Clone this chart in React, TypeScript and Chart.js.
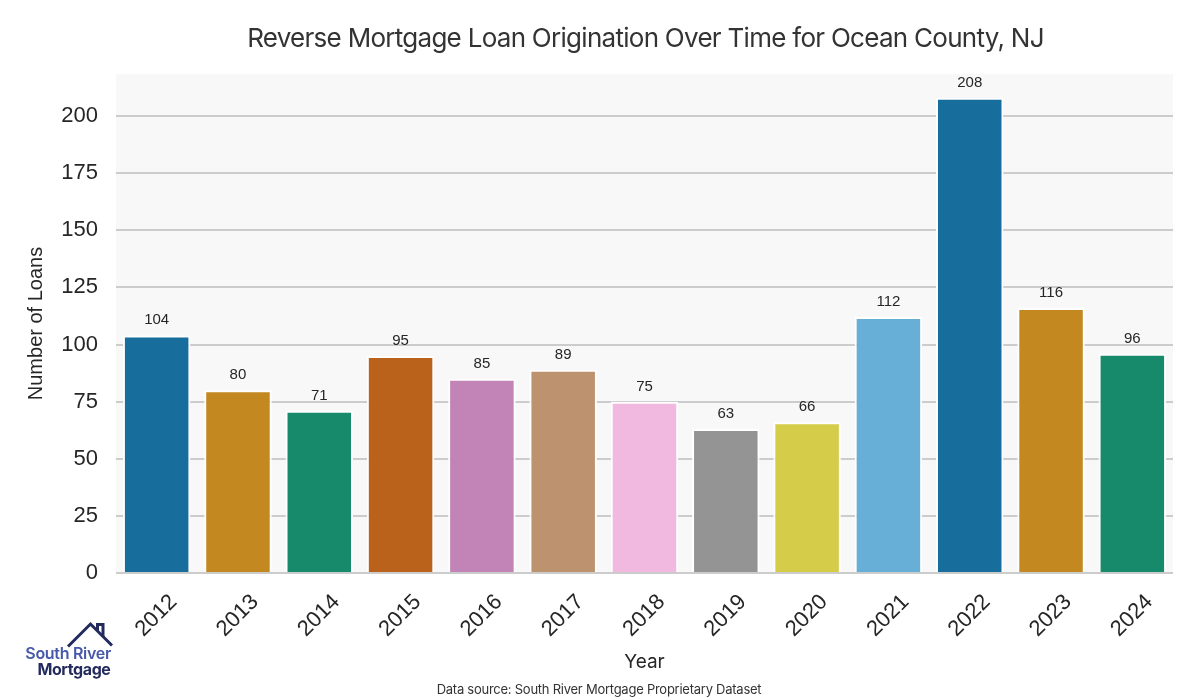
import React, { useEffect, useRef } from "react";
import { Chart, registerables } from "chart.js";

Chart.register(...registerables);

const years = ["2012", "2013", "2014", "2015", "2016", "2017", "2018", "2019", "2020", "2021", "2022", "2023", "2024"];
const loans = [104, 80, 71, 95, 85, 89, 75, 63, 66, 112, 208, 116, 96];
const barColors = [
  "#176d9c", "#c38820", "#168a6a", "#ba611b", "#c283b6", "#bd926e", "#f1b8e0",
  "#949494", "#d5cd4a", "#68afd7", "#176d9c", "#c38820", "#168a6a",
];
const yTickValues = [0, 25, 50, 75, 100, 125, 150, 175, 200];
const yMax = 218.4;
const titleText = "Reverse Mortgage Loan Origination Over Time for Ocean County, NJ";
const xTitle = "Year";
const yTitle = "Number of Loans";
const sourceText = "Data source: South River Mortgage Proprietary Dataset";
const logoLine1 = "South River";
const logoLine2 = "Mortgage";

const TICK_FONT = '"Liberation Sans", Arial, sans-serif';
const UI_FONT = 'Inter, "Noto Sans", sans-serif';

function spacedText(ctx: any, text: string, x: number, y: number, spacing: string) {
  const prev = ctx.letterSpacing;
  ctx.letterSpacing = spacing;
  ctx.textAlign = "left";
  const w = ctx.measureText(text).width;
  ctx.fillText(text, x - w / 2, y);
  ctx.letterSpacing = prev || "0px";
}

function rightText(ctx: any, text: string, xRight: number, y: number, spacing: string) {
  const prev = ctx.letterSpacing;
  ctx.letterSpacing = spacing;
  ctx.textAlign = "left";
  const w = ctx.measureText(text).width;
  ctx.fillText(text, xRight - w, y);
  ctx.letterSpacing = prev || "0px";
}

const decorPlugin = {
  id: "decor",
  beforeDraw(chart: any) {
    const { ctx, chartArea } = chart;
    ctx.save();
    ctx.fillStyle = "#ffffff";
    ctx.fillRect(0, 0, chart.width, chart.height);
    ctx.fillStyle = "#f8f8f8";
    ctx.fillRect(chartArea.left, chartArea.top, chartArea.right - chartArea.left, chartArea.bottom - chartArea.top);
    ctx.restore();
  },
  afterDraw(chart: any) {
    const { ctx, chartArea } = chart;
    const cx = (chartArea.left + chartArea.right) / 2;
    ctx.save();

    // Title
    ctx.fillStyle = "#333333";
    ctx.font = `26px ${UI_FONT}`;
    ctx.textBaseline = "alphabetic";
    spacedText(ctx, titleText, cx + 1, 46.5, "-0.72px");

    // X tick labels (rotated 45, centered under tick)
    const xScale = chart.scales.x;
    const fs = 22;
    ctx.font = `${fs}px ${TICK_FONT}`;
    ctx.fillStyle = "#262626";
    years.forEach((label, i) => {
      const x = xScale.getPixelForTick(i) - 1.5;
      const y = chartArea.bottom + 41.5;
      ctx.save();
      ctx.translate(x, y);
      ctx.rotate(-Math.PI / 4);
      ctx.textAlign = "center";
      ctx.textBaseline = "alphabetic";
      ctx.fillText(label, 0, fs * 0.358);
      ctx.restore();
    });

    // Axis titles
    ctx.fillStyle = "#262626";
    ctx.font = `19px ${UI_FONT}`;
    ctx.textAlign = "center";
    ctx.fillText(xTitle, cx, 668);

    ctx.save();
    ctx.font = `20px ${TICK_FONT}`;
    ctx.translate(42, (chartArea.top + chartArea.bottom) / 2);
    ctx.rotate(-Math.PI / 2);
    ctx.textAlign = "center";
    ctx.fillText(yTitle, 0, 0);
    ctx.restore();

    // Data labels
    const meta = chart.getDatasetMeta(0);
    ctx.font = `15px ${TICK_FONT}`;
    ctx.fillStyle = "#262626";
    ctx.textAlign = "center";
    meta.data.forEach((el: any, i: number) => {
      ctx.fillText(String(loans[i]), el.x, el.y - 11);
    });

    // Source
    ctx.font = `13px ${UI_FONT}`;
    ctx.fillStyle = "#333333";
    spacedText(ctx, sourceText, 599, 694, "-0.25px");

    // Logo
    ctx.strokeStyle = "#232a5c";
    ctx.lineWidth = 3;
    ctx.lineJoin = "miter";
    ctx.beginPath();
    ctx.moveTo(68, 646.5);
    ctx.lineTo(90.5, 624);
    ctx.lineTo(112, 645.5);
    ctx.stroke();
    ctx.beginPath();
    ctx.moveTo(97.5, 631);
    ctx.lineTo(97.5, 624.5);
    ctx.lineTo(103, 624.5);
    ctx.lineTo(103, 636.5);
    ctx.stroke();

    ctx.font = `600 16px ${UI_FONT}`;
    ctx.fillStyle = "#4658aa";
    rightText(ctx, logoLine1, 111, 659, "-0.3px");
    ctx.font = `700 16px ${UI_FONT}`;
    ctx.fillStyle = "#232a5c";
    rightText(ctx, logoLine2, 110.5, 674.5, "-0.4px");

    ctx.restore();
  },
};

export default function App() {
  const ref = useRef<HTMLCanvasElement | null>(null);
  useEffect(() => {
    if (!ref.current) return;
    const chart = new Chart(ref.current, {
      type: "bar",
      data: {
        labels: years,
        datasets: [
          {
            data: loans,
            backgroundColor: barColors,
            borderColor: "#ffffff",
            borderWidth: 2,
            barPercentage: 0.83,
            categoryPercentage: 1,
          },
        ],
      },
      options: {
        animation: false,
        responsive: false,
        devicePixelRatio: 1,
        events: [],
        layout: { padding: { left: 0, top: 74, right: 27, bottom: 0 } },
        plugins: { legend: { display: false }, title: { display: false }, tooltip: { enabled: false } },
        scales: {
          x: {
            grid: { display: false },
            border: { display: false },
            ticks: { display: false },
            afterFit: (scale: any) => {
              scale.height = 127;
            },
          },
          y: {
            min: 0,
            max: yMax,
            border: { display: false },
            grid: { color: "#cccccc", lineWidth: 2, drawTicks: false },
            afterBuildTicks: (scale: any) => {
              scale.ticks = yTickValues.map((v) => ({ value: v }));
            },
            ticks: {
              padding: 18,
              color: "#262626",
              font: { family: TICK_FONT, size: 22 },
            },
            afterFit: (scale: any) => {
              scale.width = 116;
            },
          },
        },
      },
      plugins: [decorPlugin],
    } as any);
    return () => chart.destroy();
  }, []);
  return (
    <div style={{ position: "absolute", left: 0, top: 0, width: 1200, height: 700 }}>
      <canvas ref={ref} width={1200} height={700} style={{ width: 1200, height: 700 }} />
    </div>
  );
}
